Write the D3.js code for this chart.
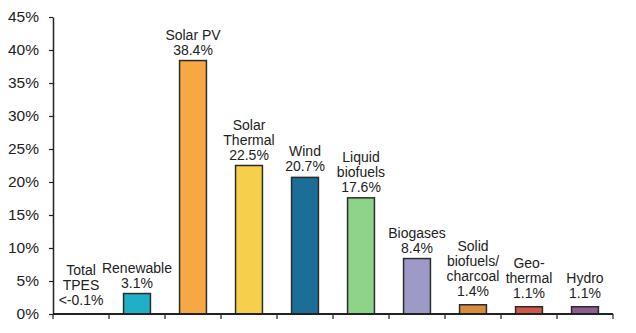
<!DOCTYPE html>
<html><head><meta charset="utf-8">
<script src="https://cdn.jsdelivr.net/npm/d3@7"></script>
<style>
body{margin:0;background:#fff;}
svg text{font-family:"Liberation Sans",Arial,sans-serif;}
</style></head>
<body><svg id="c" width="636" height="333"></svg>
<script>
const categories = ["Total TPES","Renewable","Solar PV","Solar Thermal","Wind","Liquid biofuels","Biogases","Solid biofuels/charcoal","Geo-thermal","Hydro"];
const values = [-0.05, 3.1, 38.4, 22.5, 20.7, 17.6, 8.4, 1.4, 1.1, 1.1];
const valueLabels = ["<-0.1%","3.1%","38.4%","22.5%","20.7%","17.6%","8.4%","1.4%","1.1%","1.1%"];
const nameLines = [["Total","TPES"],["Renewable"],["Solar PV"],["Solar","Thermal"],["Wind"],["Liquid","biofuels"],["Biogases"],["Solid","biofuels/","charcoal"],["Geo-","thermal"],["Hydro"]];
const colors = ["#1fb0c8","#1fb0c8","#f5a843","#f6d04d","#1c6e97","#8fd28a","#9e9ac8","#d78c3e","#d0574d","#8e5c8e"];
const yTicks = [0,5,10,15,20,25,30,35,40,45];

const svg = d3.select("#c");
const mLeft = 53, mRight = 613, mTop = 17, mBottom = 314;
const x = d3.scaleBand().domain(categories).range([mLeft, mRight]).paddingInner(0.52).paddingOuter(0.26);
const xb = d3.scaleBand().domain(categories).range([mLeft, mRight]);
const y = d3.scaleLinear().domain([0,45]).range([mBottom, mTop]);

// y axis
const ya = svg.append("g").attr("transform",`translate(${mLeft},0)`)
  .call(d3.axisLeft(y).tickValues(yTicks).tickFormat(d=>d+"%").tickSize(4).tickSizeOuter(0));
ya.select(".domain").attr("stroke","#222").attr("stroke-width",1.5);
ya.selectAll(".tick line").attr("stroke","#222").attr("stroke-width",1.2);
ya.selectAll(".tick text").attr("font-size",15.5).attr("fill","#222").attr("x",-14)
  .attr("font-family","Liberation Sans, Arial, sans-serif");

// bars
svg.append("g").selectAll("rect").data(categories).join("rect")
  .attr("x", d=>x(d)).attr("width", x.bandwidth())
  .attr("y", (d,i)=>y(Math.max(0,values[i])))
  .attr("height", (d,i)=>Math.abs(y(values[i])-y(0)))
  .attr("fill",(d,i)=>colors[i]).attr("stroke","#2b2b2b").attr("stroke-width",1.5)
  .attr("display",(d,i)=>values[i]<=0?"none":null);

// x axis
const xa = svg.append("g").attr("transform",`translate(0,${mBottom})`);
xa.append("line").attr("x1",mLeft).attr("x2",mRight).attr("stroke","#222").attr("stroke-width",1.8);
const bounds = categories.map(c=>xb(c)).concat([mRight]);
xa.selectAll("line.t").data(bounds).join("line").attr("class","t")
  .attr("x1",d=>d).attr("x2",d=>d).attr("y1",0).attr("y2",5).attr("stroke","#222").attr("stroke-width",1.2);

// labels
const lh = 15;
categories.forEach((c,i)=>{
  const lines = nameLines[i].concat([valueLabels[i]]);
  const cx = xb(c) + xb.bandwidth()/2;
  const base = y(Math.max(0,values[i])) - (values[i] < 2 ? 9 : 6);
  const t = svg.append("text").attr("text-anchor","middle").attr("font-size",14).attr("fill","#222");
  lines.forEach((ln,k)=>{
    t.append("tspan").attr("x",cx).attr("y", base - (lines.length-1-k)*lh).text(ln);
  });
});
</script></body></html>
